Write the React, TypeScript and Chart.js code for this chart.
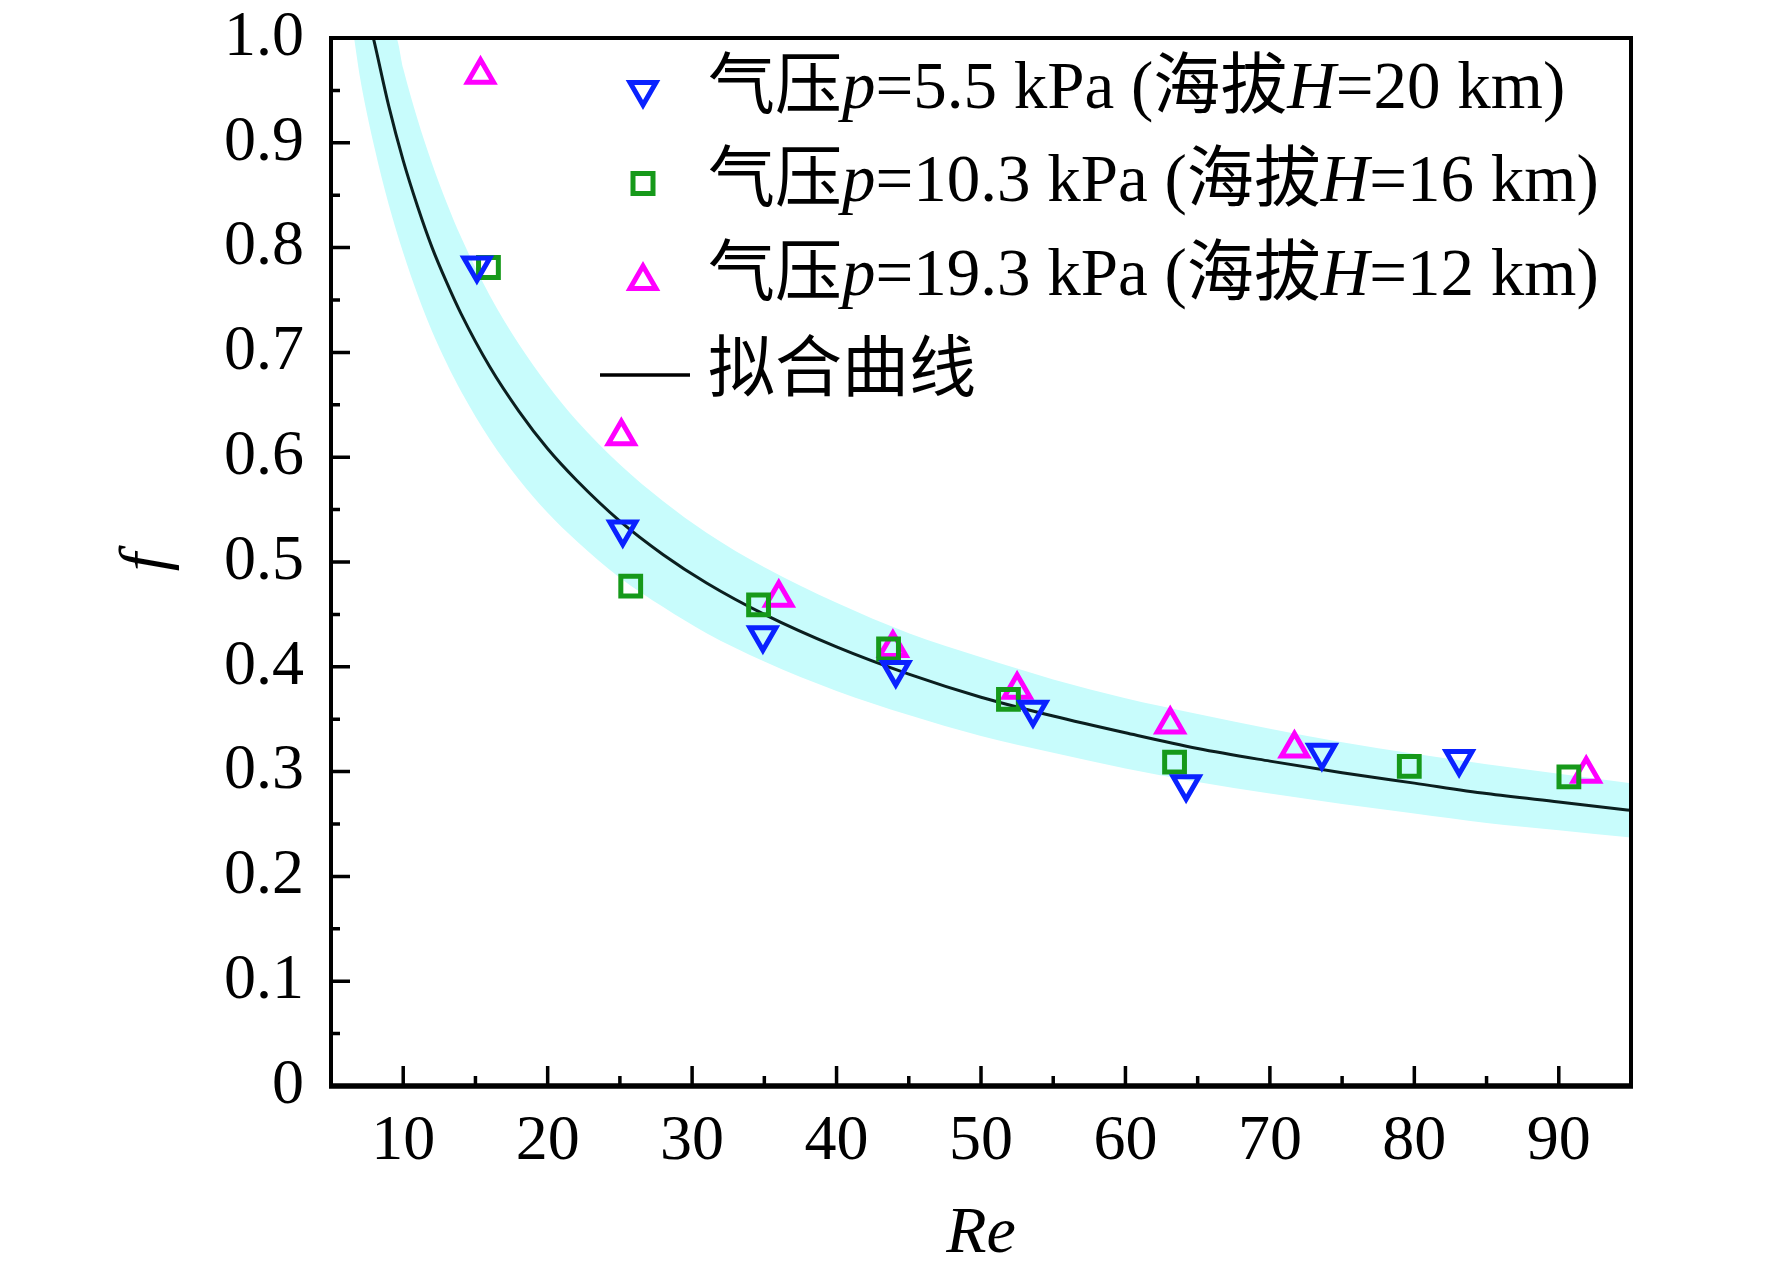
import React, { useEffect, useRef } from "react";
import { Chart, registerables } from "chart.js";

Chart.register(...registerables);

// ---------- data ----------
const xTickValues = [10, 20, 30, 40, 50, 60, 70, 80, 90];
const xMinorTickValues = [15, 25, 35, 45, 55, 65, 75, 85];
const yTickValues = [0, 0.1, 0.2, 0.3, 0.4, 0.5, 0.6, 0.7, 0.8, 0.9, 1.0];
const yTickLabels = ["0", "0.1", "0.2", "0.3", "0.4", "0.5", "0.6", "0.7", "0.8", "0.9", "1.0"];
const yMinorTickValues = [0.05, 0.15, 0.25, 0.35, 0.45, 0.55, 0.65, 0.75, 0.85, 0.95];

// p = 5.5 kPa (H = 20 km)
const p55Re = [15.1, 25.2, 34.9, 44.1, 53.6, 64.2, 73.6, 83.1];
const p55F = [0.783, 0.531, 0.430, 0.397, 0.359, 0.288, 0.318, 0.312];
// p = 10.3 kPa (H = 16 km)
const p103Re = [15.9, 25.75, 34.6, 43.6, 51.9, 63.4, 79.65, 90.7];
const p103F = [0.781, 0.477, 0.459, 0.417, 0.369, 0.309, 0.305, 0.295];
// p = 19.3 kPa (H = 12 km)
const p193Re = [15.35, 25.1, 36.0, 43.9, 52.5, 63.1, 71.7, 91.9];
const p193F = [0.965, 0.620, 0.466, 0.418, 0.378, 0.345, 0.322, 0.298];

// fitted curve
const fitRe = [7.93, 8, 9, 10, 11, 12, 13, 14, 16, 18, 20, 22, 25, 28, 31, 35, 40, 45, 50, 55, 60, 65, 70, 75, 80, 85, 90, 95];
const fitF = [1.0, 0.996, 0.935, 0.883, 0.839, 0.800, 0.767, 0.737, 0.686, 0.644, 0.608, 0.578, 0.539, 0.507, 0.480, 0.450, 0.419, 0.393, 0.371, 0.353, 0.337, 0.322, 0.310, 0.299, 0.289, 0.279, 0.271, 0.263];

// band edges
const bandUpperRe = [6.6, 9.5, 10, 11, 12, 13, 14, 16, 18, 20, 22, 25, 28, 31, 35, 40, 45, 50, 55, 60, 65, 70, 75, 80, 85, 90, 95];
const bandUpperF = [1.0, 1.0, 0.971, 0.922, 0.880, 0.843, 0.810, 0.754, 0.708, 0.669, 0.635, 0.593, 0.558, 0.528, 0.495, 0.461, 0.432, 0.409, 0.388, 0.370, 0.355, 0.341, 0.328, 0.317, 0.307, 0.298, 0.289];
const bandLowerRe = [6.6, 7, 8, 9, 10, 11, 12, 13, 14, 16, 18, 20, 22, 25, 28, 31, 35, 40, 45, 50, 55, 60, 65, 70, 75, 80, 85, 90, 95];
const bandLowerF = [1.0, 0.963, 0.896, 0.841, 0.795, 0.755, 0.720, 0.690, 0.663, 0.617, 0.579, 0.547, 0.520, 0.485, 0.457, 0.432, 0.405, 0.377, 0.354, 0.334, 0.318, 0.303, 0.290, 0.279, 0.269, 0.260, 0.251, 0.244, 0.237];

// legend texts: [text, italic]
const legendTexts: [string, boolean][][] = [
  [["气压", false], ["p", true], ["=5.5 kPa (海拔", false], ["H", true], ["=20 km)", false]],
  [["气压", false], ["p", true], ["=10.3 kPa (海拔", false], ["H", true], ["=16 km)", false]],
  [["气压", false], ["p", true], ["=19.3 kPa (海拔", false], ["H", true], ["=12 km)", false]],
  [["拟合曲线", false]],
];
const xTitle = "Re";
const yTitle = "f";

// ---------- styles ----------
const BLUE = "#0a22ff";
const GREEN = "#16991a";
const MAGENTA = "#ff00ff";
const BAND = "#c8fcfc";
const CURVE = "#0b1f1f";
const SERIF = "'Liberation Serif', 'Times New Roman', 'Noto Sans CJK SC', serif";
const MARK_W = 5;

const zip = (xs: number[], ys: number[]) => xs.map((x, i) => ({ x, y: ys[i] }));

function strokeTriangle(ctx: CanvasRenderingContext2D, x: number, y: number, r: number, down: boolean) {
  let a = down ? Math.PI : 0;
  ctx.beginPath();
  ctx.moveTo(x + Math.sin(a) * r, y - Math.cos(a) * r);
  a += (2 * Math.PI) / 3;
  ctx.lineTo(x + Math.sin(a) * r, y - Math.cos(a) * r);
  a += (2 * Math.PI) / 3;
  ctx.lineTo(x + Math.sin(a) * r, y - Math.cos(a) * r);
  ctx.closePath();
  ctx.stroke();
}

const framePlugin = {
  id: "frameTicks",
  afterDatasetsDraw(chart: any) {
    const { ctx, chartArea, scales } = chart;
    const { left, right, top, bottom } = chartArea;
    const xs = scales.x;
    const ys = scales.y;
    ctx.save();
    ctx.strokeStyle = "#000";
    ctx.lineCap = "butt";
    ctx.lineWidth = 3.5;
    ctx.beginPath();
    xTickValues.forEach((v) => {
      const px = xs.getPixelForValue(v);
      ctx.moveTo(px, bottom);
      ctx.lineTo(px, bottom - 20);
    });
    xMinorTickValues.forEach((v) => {
      const px = xs.getPixelForValue(v);
      ctx.moveTo(px, bottom);
      ctx.lineTo(px, bottom - 10);
    });
    yTickValues.forEach((v) => {
      const py = ys.getPixelForValue(v);
      ctx.moveTo(left, py);
      ctx.lineTo(left + 19, py);
    });
    yMinorTickValues.forEach((v) => {
      const py = ys.getPixelForValue(v);
      ctx.moveTo(left, py);
      ctx.lineTo(left + 9, py);
    });
    ctx.stroke();
    ctx.lineWidth = 4;
    ctx.strokeRect(left, top, right - left, bottom - top);
    ctx.lineWidth = 5.5;
    ctx.beginPath();
    ctx.moveTo(left - 2, bottom);
    ctx.lineTo(right + 2, bottom);
    ctx.stroke();
    ctx.restore();
  },
};

const legendPlugin = {
  id: "customLegend",
  afterDraw(chart: any) {
    const ctx: CanvasRenderingContext2D = chart.ctx;
    const rowY = [90, 183.5, 277, 373];
    const markerX = 643;
    const textX = 708;
    ctx.save();
    ctx.lineWidth = MARK_W;
    ctx.strokeStyle = BLUE;
    strokeTriangle(ctx, markerX, rowY[0], 15, true);
    ctx.strokeStyle = GREEN;
    ctx.strokeRect(markerX - 10, rowY[1] - 10, 20, 20);
    ctx.strokeStyle = MAGENTA;
    strokeTriangle(ctx, markerX, rowY[2] + 4, 15, false);
    ctx.strokeStyle = "#000";
    ctx.lineWidth = 3.5;
    ctx.beginPath();
    ctx.moveTo(600, rowY[3] + 2);
    ctx.lineTo(690, rowY[3] + 2);
    ctx.stroke();
    ctx.fillStyle = "#000";
    ctx.textBaseline = "middle";
    ctx.textAlign = "left";
    legendTexts.forEach((segs, i) => {
      let x = textX;
      segs.forEach(([t, it]) => {
        ctx.font = `${it ? "italic " : ""}67px ${SERIF}`;
        ctx.fillText(t, x, rowY[i]);
        x += ctx.measureText(t).width;
      });
    });
    ctx.restore();
  },
};

export default function App() {
  const canvasRef = useRef<HTMLCanvasElement | null>(null);

  useEffect(() => {
    const canvas = canvasRef.current;
    if (!canvas) return;
    const pointCommon = {
      showLine: false,
      backgroundColor: "rgba(0,0,0,0)",
      pointBackgroundColor: "rgba(0,0,0,0)",
      pointBorderWidth: MARK_W,
      pointHoverRadius: 0,
    };
    const chart = new Chart(canvas, {
      type: "scatter",
      data: {
        datasets: [
          {
            ...pointCommon,
            label: "p55",
            data: zip(p55Re, p55F),
            pointStyle: "triangle",
            pointRotation: 180,
            pointRadius: 15,
            borderColor: BLUE,
            pointBorderColor: BLUE,
          },
          {
            ...pointCommon,
            label: "p103",
            data: zip(p103Re, p103F),
            pointStyle: "rect",
            pointRadius: 14,
            borderColor: GREEN,
            pointBorderColor: GREEN,
          },
          {
            ...pointCommon,
            label: "p193",
            data: zip(p193Re, p193F),
            pointStyle: "triangle",
            pointRadius: 15,
            borderColor: MAGENTA,
            pointBorderColor: MAGENTA,
          },
          {
            label: "fit",
            data: zip(fitRe, fitF),
            showLine: true,
            pointRadius: 0,
            borderColor: CURVE,
            borderWidth: 3,
            cubicInterpolationMode: "monotone",
            fill: false,
          },
          {
            label: "upper",
            data: zip(bandUpperRe, bandUpperF),
            showLine: true,
            pointRadius: 0,
            borderWidth: 0,
            borderColor: "rgba(0,0,0,0)",
            backgroundColor: BAND,
            cubicInterpolationMode: "monotone",
            fill: "+1",
          },
          {
            label: "lower",
            data: zip(bandLowerRe, bandLowerF),
            showLine: true,
            pointRadius: 0,
            borderWidth: 0,
            borderColor: "rgba(0,0,0,0)",
            backgroundColor: BAND,
            cubicInterpolationMode: "monotone",
            fill: false,
          },
        ] as any,
      },
      options: {
        animation: false,
        responsive: false,
        devicePixelRatio: 1,
        layout: { padding: { top: 38, right: 141, left: 0, bottom: 0 } },
        plugins: { legend: { display: false }, tooltip: { enabled: false } },
        events: [],
        scales: {
          x: {
            type: "linear",
            min: 5,
            max: 95,
            afterBuildTicks: (s: any) => {
              s.ticks = xTickValues.map((v) => ({ value: v }));
            },
            afterFit: (s: any) => {
              s.height = 190;
              s.paddingLeft = 0;
              s.paddingRight = 0;
            },
            grid: { display: false, drawTicks: false },
            border: { display: false },
            ticks: {
              color: "#000",
              font: { family: SERIF, size: 64 },
              padding: 18,
              maxRotation: 0,
              autoSkip: false,
            },
            title: {
              display: true,
              text: xTitle,
              color: "#000",
              font: { family: SERIF, size: 66, style: "italic" },
              padding: { top: 0, bottom: 1.5 },
            },
          },
          y: {
            type: "linear",
            min: 0,
            max: 1,
            afterBuildTicks: (s: any) => {
              s.ticks = yTickValues.map((v) => ({ value: v }));
            },
            afterFit: (s: any) => {
              s.width = 331;
              s.paddingTop = 0;
              s.paddingBottom = 0;
            },
            grid: { display: false, drawTicks: false },
            border: { display: false },
            ticks: {
              color: "#000",
              font: { family: SERIF, size: 64 },
              padding: 27,
              autoSkip: false,
              callback: (_v: any, i: number) => yTickLabels[i],
            },
            title: {
              display: true,
              text: yTitle,
              color: "#000",
              font: { family: SERIF, size: 66, style: "italic" },
              padding: { top: 108, bottom: 0 },
            },
          },
        },
      } as any,
      plugins: [framePlugin, legendPlugin],
    });
    return () => chart.destroy();
  }, []);

  return (
    <div style={{ position: "fixed", left: 0, top: 0, width: 1772, height: 1276, background: "#fff" }}>
      <canvas ref={canvasRef} width={1772} height={1276} style={{ display: "block" }} />
    </div>
  );
}
